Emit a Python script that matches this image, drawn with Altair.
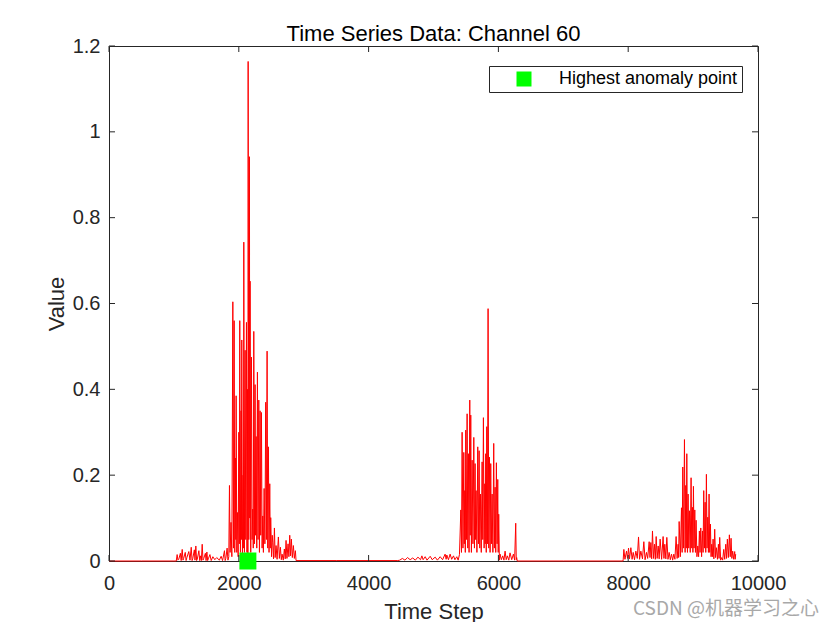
import altair as alt
import pandas as pd

# ---------------- data ----------------
# quiet baseline and the first cluster (time step, value)
seg_start = [[0, 0.0], [500, 0.0], [1000, 0.0]]
seg_c1_noise = [
    [1036, 0.000], [1050, 0.015], [1062, 0.002], [1075, 0.004], [1100, 0.018], [1112, 0.001],
    [1128, 0.027], [1140, 0.002], [1150, 0.006], [1175, 0.020], [1188, 0.001], [1200, 0.008],
    [1230, 0.022], [1248, 0.002], [1267, 0.032], [1280, 0.001], [1290, 0.005], [1315, 0.026],
    [1325, 0.002], [1338, 0.035], [1350, 0.001], [1360, 0.004], [1385, 0.024], [1398, 0.001],
    [1410, 0.012], [1423, 0.001], [1436, 0.039], [1448, 0.002], [1460, 0.006], [1485, 0.018],
    [1496, 0.001], [1508, 0.021], [1520, 0.001], [1530, 0.005], [1555, 0.015], [1575, 0.001],
    [1600, 0.010], [1630, 0.003], [1660, 0.008], [1700, 0.002], [1728, 0.011], [1750, 0.001],
    [1779, 0.024], [1790, 0.001], [1800, 0.006], [1820, 0.030], [1833, 0.002], [1846, 0.010],
]
seg_c1_main = [
    [1856, 0.176], [1866, 0.020], [1880, 0.090], [1893, 0.010], [1908, 0.604], [1918, 0.030],
    [1928, 0.560], [1938, 0.020], [1948, 0.240], [1954, 0.050], [1959, 0.385], [1969, 0.020],
    [1979, 0.113], [1990, 0.010], [2000, 0.300], [2008, 0.040], [2015, 0.560], [2025, 0.020],
    [2035, 0.350], [2040, 0.050], [2046, 0.515], [2056, 0.010], [2066, 0.200], [2071, 0.030],
    [2077, 0.743], [2087, 0.020], [2097, 0.491], [2107, 0.050], [2118, 0.556], [2126, 0.020],
    [2135, 0.400], [2140, 0.010], [2144, 1.164], [2154, 0.050], [2164, 0.942], [2169, 0.100],
    [2174, 0.652], [2184, 0.020], [2195, 0.475], [2205, 0.050], [2215, 0.121], [2223, 0.030],
    [2231, 0.535], [2241, 0.040], [2251, 0.411], [2259, 0.060], [2267, 0.290], [2277, 0.030],
    [2287, 0.440], [2297, 0.050], [2308, 0.375], [2318, 0.020], [2328, 0.350], [2338, 0.060],
    [2349, 0.346], [2359, 0.030], [2369, 0.105], [2379, 0.020], [2390, 0.169], [2402, 0.040],
    [2415, 0.370], [2425, 0.050], [2436, 0.489], [2446, 0.030], [2456, 0.266], [2466, 0.020],
    [2477, 0.180], [2485, 0.030], [2492, 0.101], [2505, 0.010], [2515, 0.060], [2523, 0.044],
    [2535, 0.005], [2549, 0.077], [2560, 0.008], [2574, 0.036], [2590, 0.004], [2610, 0.056],
    [2625, 0.006], [2641, 0.032], [2655, 0.003], [2667, 0.016], [2685, 0.002], [2702, 0.028],
    [2715, 0.005], [2728, 0.048], [2742, 0.006], [2759, 0.040], [2772, 0.010], [2785, 0.060],
    [2798, 0.012], [2810, 0.051], [2825, 0.008], [2841, 0.036], [2856, 0.006], [2872, 0.024],
    [2882, 0.001],
]
# second cluster
seg_c2_noise = [
    [3500, 0.001], [4450, 0.001], [4480, 0.002], [4520, 0.006], [4560, 0.002], [4600, 0.008],
    [4640, 0.003], [4680, 0.007], [4720, 0.002], [4760, 0.009], [4800, 0.003], [4821, 0.012],
    [4840, 0.003], [4872, 0.010], [4900, 0.002], [4949, 0.011], [4980, 0.003], [5026, 0.009],
    [5060, 0.002], [5103, 0.010], [5140, 0.003], [5179, 0.016], [5195, 0.004], [5205, 0.014],
    [5230, 0.003], [5256, 0.016], [5280, 0.004], [5308, 0.012], [5330, 0.003], [5359, 0.010],
    [5380, 0.002], [5400, 0.015],
]
seg_c2_main = [
    [5421, 0.119], [5431, 0.020], [5441, 0.300], [5454, 0.030], [5467, 0.253], [5474, 0.040],
    [5482, 0.164], [5490, 0.020], [5497, 0.305], [5508, 0.050], [5518, 0.343], [5528, 0.030],
    [5538, 0.250], [5548, 0.020], [5559, 0.375], [5566, 0.060], [5574, 0.340], [5584, 0.020],
    [5595, 0.235], [5608, 0.040], [5621, 0.288], [5631, 0.030], [5641, 0.227], [5648, 0.050],
    [5656, 0.164], [5669, 0.020], [5682, 0.266], [5692, 0.040], [5703, 0.257], [5713, 0.030],
    [5723, 0.156], [5736, 0.020], [5749, 0.231], [5759, 0.050], [5769, 0.334], [5780, 0.030],
    [5790, 0.180], [5797, 0.040], [5805, 0.250], [5813, 0.020], [5821, 0.313], [5831, 0.040],
    [5841, 0.588], [5851, 0.030], [5862, 0.242], [5872, 0.020], [5882, 0.227], [5892, 0.040],
    [5903, 0.156], [5915, 0.020], [5928, 0.274], [5938, 0.030], [5949, 0.172], [5959, 0.020],
    [5969, 0.229], [5980, 0.040], [5990, 0.190], [5997, 0.020], [6005, 0.109], [6015, 0.002],
    [6026, 0.016], [6045, 0.003], [6067, 0.012], [6085, 0.002], [6103, 0.023], [6120, 0.003],
    [6138, 0.012], [6160, 0.002], [6179, 0.019], [6205, 0.003], [6231, 0.016], [6250, 0.002],
    [6267, 0.088], [6275, 0.003], [6282, 0.008], [6290, 0.000],
]
# third cluster
seg_c3_noise = [
    [7000, 0.000], [7920, 0.000], [7923, 0.003], [7933, 0.027], [7950, 0.004], [7974, 0.023],
    [7990, 0.006], [8005, 0.030], [8020, 0.005], [8041, 0.031], [8060, 0.004], [8077, 0.020],
    [8097, 0.003], [8118, 0.023], [8140, 0.006], [8159, 0.056], [8175, 0.004], [8195, 0.023],
    [8220, 0.005], [8241, 0.045], [8260, 0.003], [8282, 0.020], [8300, 0.006], [8323, 0.045],
    [8336, 0.008], [8349, 0.043], [8362, 0.005], [8374, 0.070], [8390, 0.006], [8405, 0.039],
    [8418, 0.004], [8431, 0.057], [8446, 0.006], [8462, 0.035], [8477, 0.005], [8492, 0.051],
    [8515, 0.004], [8538, 0.057], [8551, 0.006], [8564, 0.039], [8580, 0.005], [8595, 0.055],
    [8613, 0.004], [8631, 0.020], [8649, 0.003], [8667, 0.016], [8685, 0.002], [8703, 0.016],
    [8720, 0.004], [8738, 0.057], [8754, 0.006], [8769, 0.039], [8777, 0.008],
]
seg_c3_main = [
    [8785, 0.092], [8803, 0.010], [8821, 0.124], [8831, 0.020], [8841, 0.219], [8854, 0.030],
    [8867, 0.283], [8877, 0.020], [8887, 0.176], [8895, 0.030], [8903, 0.250], [8913, 0.020],
    [8923, 0.156], [8933, 0.030], [8944, 0.117], [8956, 0.020], [8969, 0.194], [8979, 0.030],
    [8990, 0.125], [8997, 0.020], [9005, 0.174], [9015, 0.030], [9026, 0.119], [9036, 0.020],
    [9046, 0.095], [9059, 0.010], [9072, 0.035], [9085, 0.010], [9097, 0.070], [9107, 0.020],
    [9118, 0.077], [9131, 0.010], [9144, 0.070], [9154, 0.020], [9164, 0.164], [9175, 0.030],
    [9185, 0.137], [9195, 0.020], [9205, 0.202], [9215, 0.030], [9226, 0.102], [9236, 0.020],
    [9246, 0.156], [9256, 0.020], [9267, 0.086], [9277, 0.010], [9287, 0.039], [9297, 0.010],
    [9308, 0.051], [9320, 0.005], [9333, 0.074], [9346, 0.008], [9359, 0.031], [9375, 0.004],
    [9390, 0.039], [9400, 0.006], [9410, 0.055], [9425, 0.002], [9441, 0.008], [9456, 0.002],
    [9472, 0.027], [9487, 0.004], [9503, 0.039], [9515, 0.006], [9528, 0.051], [9543, 0.008],
    [9559, 0.061], [9572, 0.010], [9585, 0.053], [9597, 0.006], [9610, 0.023], [9625, 0.004],
    [9641, 0.022], [9648, 0.004], [9656, 0.016],
]

anomaly_t = [2140]
anomaly_v = [0.0]
anomaly_label = ["Highest anomaly point"]

x_ticks = [0, 2000, 4000, 6000, 8000, 10000]
y_ticks = [0, 0.2, 0.4, 0.6, 0.8, 1.0, 1.2]

TITLE = "Time Series Data: Channel 60"
X_TITLE = "Time Step"
Y_TITLE = "Value"
WATERMARK = "CSDN @机器学习之心"

# ---------------- build tables ----------------
rows = (seg_start + seg_c1_noise + seg_c1_main + seg_c2_noise + seg_c2_main
        + seg_c3_noise + seg_c3_main)
series = pd.DataFrame(rows, columns=["t", "v"])
anom = pd.DataFrame({"t": anomaly_t, "v": anomaly_v, "label": anomaly_label})
xt = pd.DataFrame({"t": x_ticks})
yt = pd.DataFrame({"v": y_ticks})

W, H = 649, 515
FONT = "Liberation Sans"
AX = "#262626"

xscale = alt.Scale(domain=[0, 10000], nice=False, zero=False)
yscale = alt.Scale(domain=[0, 1.2], nice=False)

x_axis = alt.Axis(values=x_ticks, format="d", grid=False, domain=False,
                  ticks=False, tickSize=0, labelPadding=28, labelFlush=False,
                  labelBaseline="alphabetic", labelFontSize=20, labelFont=FONT,
                  labelColor=AX, titleFont=FONT, titleFontSize=22,
                  titleFontWeight="normal", titleColor=AX,
                  titleY=57, titleBaseline="alphabetic")
y_axis = alt.Axis(values=y_ticks, format="~g", grid=False, domain=False,
                  ticks=False, tickSize=0, labelPadding=9, labelFontSize=20,
                  labelFlush=False,
                  labelFont=FONT, labelColor=AX, titleFont=FONT, titleFontSize=22,
                  titleFontWeight="normal", titleColor=AX,
                  titleX=-46, titleY=H / 2, titleBaseline="alphabetic")

line = alt.Chart(series).mark_line(color="#ff0000", strokeWidth=1).encode(
    x=alt.X("t:Q", scale=xscale, title=X_TITLE, axis=x_axis),
    y=alt.Y("v:Q", scale=yscale, title=Y_TITLE, axis=y_axis),
)

square = alt.Chart(anom).mark_square(size=289, opacity=1, filled=True).encode(
    x=alt.X("t:Q", scale=xscale, title=X_TITLE, axis=x_axis),
    y=alt.Y("v:Q", scale=yscale, title=Y_TITLE, axis=y_axis),
    color=alt.Color("label:N",
                    scale=alt.Scale(domain=anomaly_label, range=["#00ff00"]),
                    legend=alt.Legend(title=None, orient="none", legendX=380, legendY=20,
                                      symbolType="square", symbolSize=225,
                                      symbolStrokeWidth=0, labelFontSize=18,
                                      labelFont=FONT, labelColor="#000000",
                                      labelLimit=400, strokeColor=AX, fillColor="white",
                                      padding=4, symbolOffset=22, labelOffset=26)),
)

tick_len = 6
xt_bottom = alt.Chart(xt).mark_rule(color=AX, strokeWidth=1).encode(
    x=alt.X("t:Q", scale=xscale, title=X_TITLE, axis=x_axis),
    y=alt.value(H), y2=alt.value(H - tick_len))
xt_top = alt.Chart(xt).mark_rule(color=AX, strokeWidth=1).encode(
    x=alt.X("t:Q", scale=xscale, title=X_TITLE, axis=x_axis),
    y=alt.value(0), y2=alt.value(tick_len))
yt_left = alt.Chart(yt).mark_rule(color=AX, strokeWidth=1).encode(
    y=alt.Y("v:Q", scale=yscale, title=Y_TITLE, axis=y_axis),
    x=alt.value(0), x2=alt.value(tick_len))
yt_right = alt.Chart(yt).mark_rule(color=AX, strokeWidth=1).encode(
    y=alt.Y("v:Q", scale=yscale, title=Y_TITLE, axis=y_axis),
    x=alt.value(W), x2=alt.value(W - tick_len))

title_text = alt.Chart(anom).mark_text(
    text=TITLE, font=FONT, fontSize=22, color="#000000",
    align="center", baseline="alphabetic",
).encode(x=alt.value(W / 2), y=alt.value(-5))

watermark = alt.Chart(anom).mark_text(
    text=WATERMARK, font="Noto Sans CJK SC", fontSize=19, color="#9a9a9a",
    align="left", baseline="middle", opacity=0.85,
).encode(x=alt.value(524), y=alt.value(563))

chart = alt.layer(line, square, xt_bottom, xt_top, yt_left, yt_right,
                  title_text, watermark).properties(
    width=W, height=H,
    background="white",
    autosize=alt.AutoSizeParams(type="none"),
    padding={"left": 101, "top": 38, "right": 74, "bottom": 61},
).configure_view(stroke=AX, strokeWidth=1)

chart.save("out.html", embed_options={"renderer": "svg", "actions": False})
